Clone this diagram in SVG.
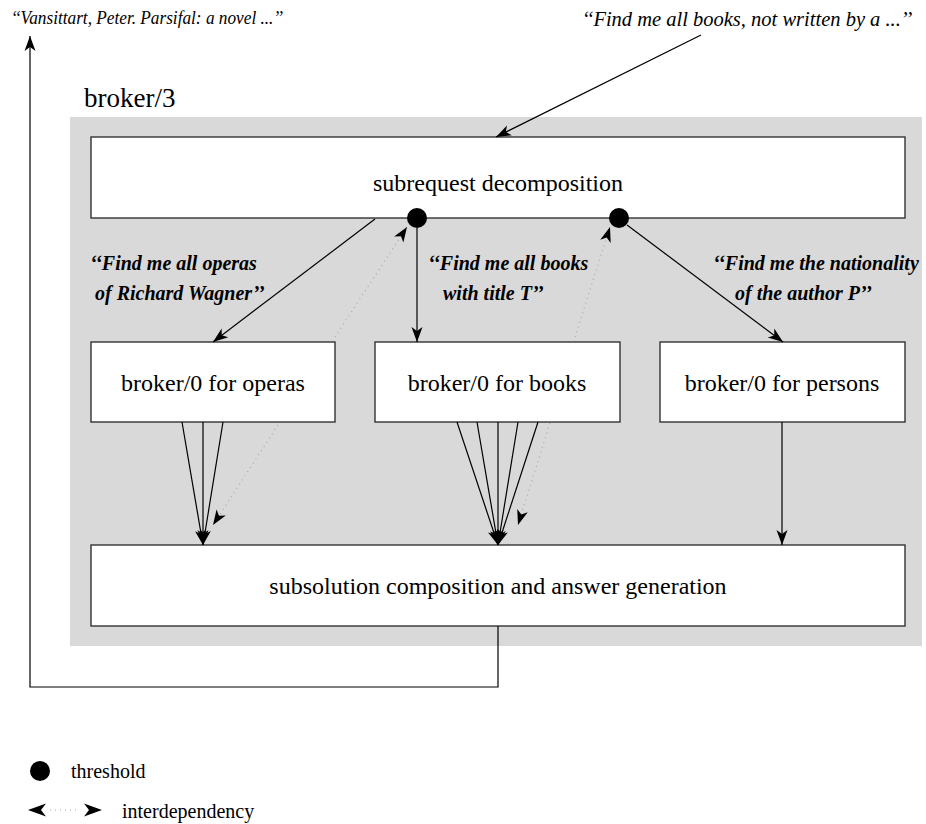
<svg xmlns="http://www.w3.org/2000/svg" width="926" height="824" viewBox="0 0 926 824">
<style>
.box{fill:#fff;stroke:#333;stroke-width:1.4}
.lbl{font-family:"Liberation Serif","Times New Roman",serif;font-size:24px;fill:#000;text-anchor:middle}
.q{font-family:"Liberation Serif","Times New Roman",serif;font-size:20px;font-weight:bold;font-style:italic;fill:#000}
.top{font-family:"Liberation Serif","Times New Roman",serif;font-style:italic;fill:#000}
.ln{stroke:#000;stroke-width:1.2;fill:none}
.dot{stroke:#aaa;stroke-width:1.2;stroke-dasharray:1 4;fill:none}
</style>
<defs>
<marker id="ah" viewBox="-16 -6 17 12" refX="0" refY="0" markerWidth="17" markerHeight="12" markerUnits="userSpaceOnUse" orient="auto">
<path d="M0,0 L-15,-5.5 L-11,0 L-15,5.5 Z" fill="#000"/>
</marker>
</defs>
<rect id="broker3-area" x="70" y="117" width="852" height="529" fill="#d9d9d9"/>
<text x="84" y="107" style="font-family:'Liberation Serif','Times New Roman',serif;font-size:27px">broker/3</text>
<text class="top" x="11" y="24" font-size="18" textLength="272" lengthAdjust="spacingAndGlyphs">‘‘Vansittart, Peter. Parsifal: a novel ...’’</text>
<text class="top" x="582" y="26" font-size="20.5">‘‘Find me all books, not written by a ...’’</text>

<g id="decomp"><rect class="box" x="91" y="137" width="814" height="81"/><text class="lbl" x="498" y="191">subrequest decomposition</text></g>
<g id="operas"><rect class="box" x="91" y="342" width="244" height="80"/><text class="lbl" x="213" y="391">broker/0 for operas</text></g>
<g id="books"><rect class="box" x="375" y="342" width="245" height="80"/><text class="lbl" x="497" y="391">broker/0 for books</text></g>
<g id="persons"><rect class="box" x="660" y="342" width="245" height="80"/><text class="lbl" x="782" y="391">broker/0 for persons</text></g>
<g id="compose"><rect class="box" x="91" y="545" width="814" height="81"/><text class="lbl" x="498" y="594">subsolution composition and answer generation</text></g>
<g id="threshold1"><circle cx="417" cy="218" r="10" fill="#000"/></g>
<g id="threshold2"><circle cx="619" cy="218" r="10" fill="#000"/></g>

<g id="labels">
<text class="q" x="90" y="270">‘‘Find me all operas</text>
<text class="q" x="95" y="300">of Richard Wagner’’</text>
<text class="q" x="428" y="270">‘‘Find me all books</text>
<text class="q" x="443" y="300">with title T’’</text>
<text class="q" x="713" y="270">‘‘Find me the nationality</text>
<text class="q" x="735" y="300">of the author P’’</text>
</g>

<g id="connectors">
<line class="ln" x1="701" y1="35" x2="496" y2="137" marker-end="url(#ah)"/>
<polyline class="ln" points="498,626 498,687 30,687 30,36" marker-end="url(#ah)"/>
<line class="ln" x1="375" y1="219" x2="213" y2="342" marker-end="url(#ah)"/>
<line class="ln" x1="417" y1="228" x2="417" y2="342" marker-end="url(#ah)"/>
<line class="ln" x1="627" y1="225" x2="783" y2="342" marker-end="url(#ah)"/>
<line class="dot" x1="335" y1="337" x2="407" y2="227" marker-end="url(#ah)"/>
<line class="dot" x1="575" y1="337" x2="610" y2="227" marker-end="url(#ah)"/>
<line class="ln" x1="182" y1="422" x2="203" y2="545" marker-end="url(#ah)"/>
<line class="ln" x1="203" y1="422" x2="203" y2="545" marker-end="url(#ah)"/>
<line class="ln" x1="223" y1="422" x2="203" y2="545" marker-end="url(#ah)"/>
<line class="dot" x1="278" y1="425" x2="213" y2="525" marker-end="url(#ah)"/>
<line class="ln" x1="457" y1="422" x2="498" y2="545" marker-end="url(#ah)"/>
<line class="ln" x1="477" y1="422" x2="498" y2="545" marker-end="url(#ah)"/>
<line class="ln" x1="498" y1="422" x2="498" y2="545" marker-end="url(#ah)"/>
<line class="ln" x1="518" y1="422" x2="498" y2="545" marker-end="url(#ah)"/>
<line class="ln" x1="538" y1="422" x2="498" y2="545" marker-end="url(#ah)"/>
<line class="dot" x1="550" y1="423" x2="518" y2="525" marker-end="url(#ah)"/>
<line class="ln" x1="782" y1="422" x2="782" y2="545" marker-end="url(#ah)"/>
</g>

<g id="legend">
<circle cx="40" cy="771" r="10" fill="#000"/>
<text x="71" y="778" style="font-family:'Liberation Serif','Times New Roman',serif;font-size:20px">threshold</text>
<line class="dot" x1="50" y1="810" x2="80" y2="810"/>
<path d="M28,810 L46,803.5 L41,810 L46,816.5 Z" fill="#000"/>
<path d="M102,810 L84,803.5 L89,810 L84,816.5 Z" fill="#000"/>
<text x="122" y="818" style="font-family:'Liberation Serif','Times New Roman',serif;font-size:20px">interdependency</text>
</g>
</svg>
